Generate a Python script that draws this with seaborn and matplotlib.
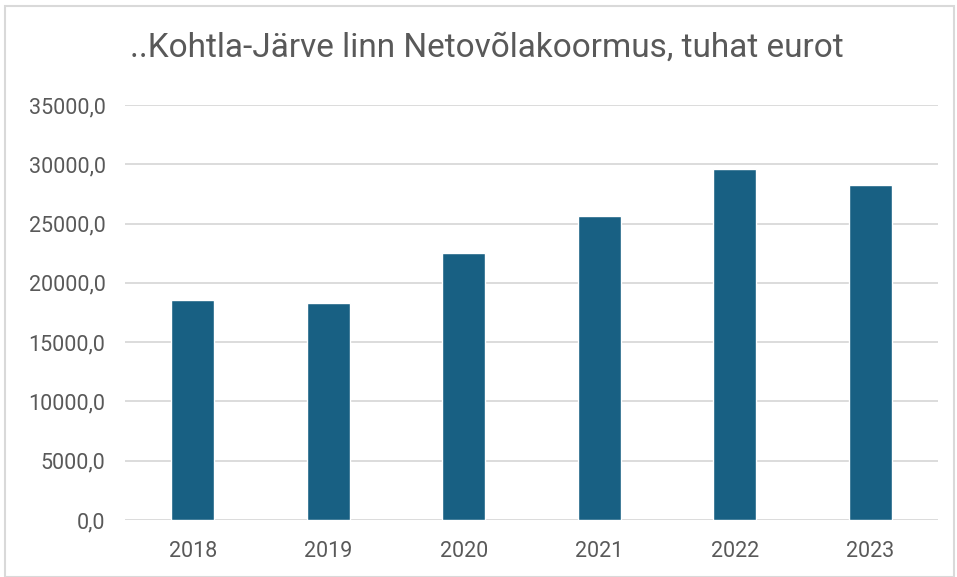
import matplotlib
matplotlib.use("Agg")
import matplotlib.pyplot as plt
import seaborn as sns
import pandas as pd
from matplotlib.patches import Rectangle

years = ["2018", "2019", "2020", "2021", "2022", "2023"]
debt = [18550.0, 18270.0, 22540.0, 25630.0, 29570.0, 28270.0]
y_ticks = [0, 5000, 10000, 15000, 20000, 25000, 30000, 35000]
title = "..Kohtla-Järve linn Netovõlakoormus, tuhat eurot"

sns.set_theme(style="white")
plt.rcParams["font.family"] = ["Roboto", "DejaVu Sans"]

df = pd.DataFrame({"Aasta": years, "Netovolakoormus": debt})

W, H = 957, 577
fig = plt.figure(figsize=(W / 100, H / 100), dpi=100)
ax = fig.add_axes([125 / W, (H - 520) / H, (938 - 125) / W, (520 - 105) / H])

sns.barplot(data=df, x="Aasta", y="Netovolakoormus", color="#186083",
            width=0.32, saturation=1, ax=ax)

ax.set_ylim(0, 35000)
ax.set_yticks(y_ticks)
ax.set_yticklabels([f"{v:.1f}".replace(".", ",") for v in y_ticks])
ax.yaxis.grid(True, color="#d9d9d9", linewidth=1.3)
ax.set_axisbelow(True)
for s in ax.spines.values():
    s.set_visible(False)
ax.tick_params(axis="both", length=0, labelsize=15.5, colors="#595959")
ax.tick_params(axis="y", pad=14)
ax.tick_params(axis="x", pad=15)
ax.set_xlabel("")
ax.set_ylabel("")

fig.text(487 / W, (H - 48) / H, title, ha="center", va="center",
         fontsize=24, color="#595959")

fig.patches.append(Rectangle((5 / W, 0), (W - 8) / W, (H - 6) / H,
                             transform=fig.transFigure, fill=False,
                             edgecolor="#d9d9d9", linewidth=1.5))

fig.savefig("out.png", dpi=100, facecolor="white")
